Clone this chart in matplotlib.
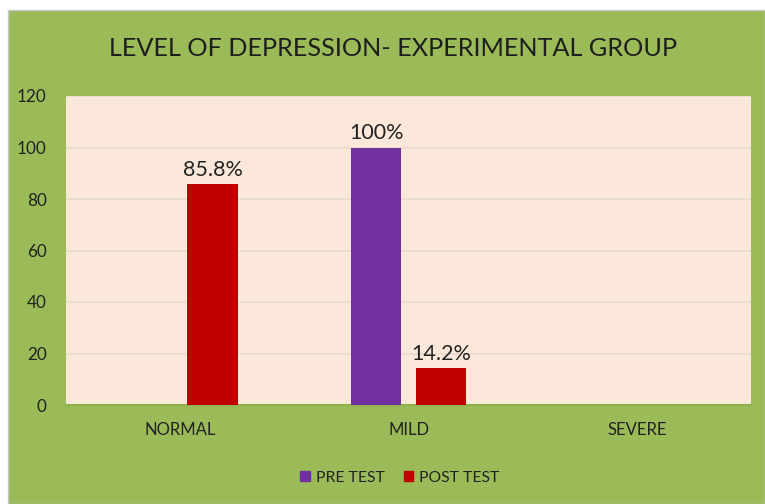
import matplotlib
matplotlib.use("Agg")
import matplotlib.pyplot as plt
from matplotlib.patches import Rectangle, Patch
import numpy as np

categories = ["NORMAL", "MILD", "SEVERE"]
pre_test = [0, 100, 0]
post_test = [85.8, 14.2, 0]
pre_labels = [None, "100%", None]
post_labels = ["85.8%", "14.2%", None]
series_names = ["PRE TEST", "POST TEST"]
title = "LEVEL OF DEPRESSION- EXPERIMENTAL GROUP"

plt.rcParams['font.family'] = ['Lato', 'DejaVu Sans']

W, H = 765, 504
fig = plt.figure(figsize=(W/100, H/100), dpi=100)
fig.patch.set_facecolor("white")
green = "#9BBB59"
bg = Rectangle((8/W, 0), 1 - 8/W, 1 - 10/H, transform=fig.transFigure,
               facecolor=green, edgecolor="#C8C8C8", linewidth=1, zorder=-5)
fig.add_artist(bg)

ax = fig.add_axes([66/W, 1 - 405/H, (751-66)/W, (405-96)/H])
ax.set_zorder(2)
ax.set_facecolor("#FCE8DB")
x = np.arange(len(categories))
w = 0.222
off = 0.142
purple = "#7030A0"
red = "#C00000"
ax.bar(x - off, pre_test, w, color=purple, zorder=3)
ax.bar(x + off, post_test, w, color=red, zorder=3)
for xs, vals, labs in [(x - off, pre_test, pre_labels), (x + off, post_test, post_labels)]:
    for xi, v, lab in zip(xs, vals, labs):
        if lab:
            ax.annotate(lab, (xi, v), xytext=(0, 3), textcoords="offset points",
                        ha="center", va="bottom", fontsize=15.5, color="#222222", zorder=4)

ax.set_xlim(-0.5, 2.5)
ax.set_ylim(0, 120)
ax.set_yticks(range(0, 121, 20))
ax.yaxis.grid(True, color="#E6DAD0", linewidth=1.2, zorder=0)
ax.set_axisbelow(True)
for s in ["top", "right", "left"]:
    ax.spines[s].set_visible(False)
ax.spines["bottom"].set_color("#8DB04A")
ax.spines["bottom"].set_linewidth(1.5)
ax.set_xticks(x)
ax.set_xticklabels(categories)
ax.tick_params(axis="both", length=0, colors="#222222")
ax.tick_params(axis="y", pad=14, labelsize=12.3)
ax.tick_params(axis="x", pad=12, labelsize=12)

fig.text(393/W, 1 - 48/H, title, ha="center", va="center", fontsize=18.2, color="#1E1E1E")

handles = [Patch(color=purple), Patch(color=red)]
fig.legend(handles, series_names, loc="center", bbox_to_anchor=(400/W, 1 - 478/H),
           ncol=2, frameon=False, fontsize=11.3, handlelength=0.6, handleheight=0.6,
           handletextpad=0.4, columnspacing=1.2, labelcolor="#222222")

fig.savefig("out.png", dpi=100, facecolor=fig.get_facecolor())
